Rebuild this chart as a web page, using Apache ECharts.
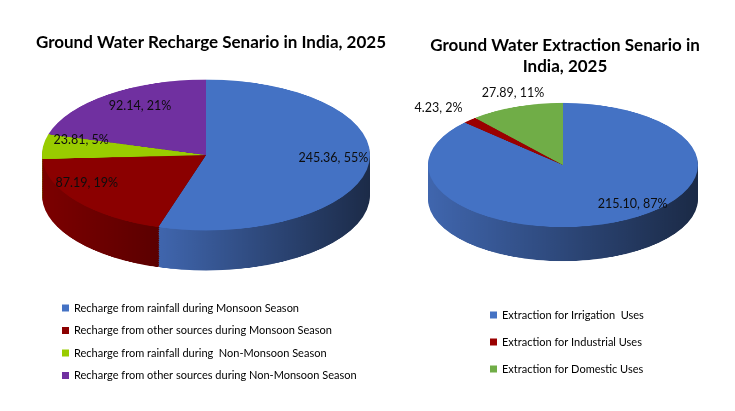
<!DOCTYPE html>
<html>
<head>
<meta charset="utf-8">
<script src="https://cdn.jsdelivr.net/npm/echarts@6/dist/echarts.min.js"></script>
<style>
  html, body { margin: 0; padding: 0; background: #ffffff; }
  #wrap { position: relative; width: 735px; height: 411px; overflow: hidden; background: #fff; }
  #pies { position: absolute; left: 0; top: 0; width: 735px; transform-origin: 0 0; }
  #labels { position: absolute; left: 0; top: 0; width: 735px; height: 411px; }
</style>
</head>
<body>
<div id="wrap">
  <div id="pies"></div>
  <div id="labels"></div>
</div>
<script>
// ---------------- data ----------------
const rechargeTitle = 'Ground Water Recharge Senario in India, 2025';
const rechargeCategories = [
  'Recharge from rainfall during Monsoon Season',
  'Recharge from other sources during Monsoon Season',
  'Recharge from rainfall during  Non-Monsoon Season',
  'Recharge from other sources during Non-Monsoon Season'
];
const rechargeValues = [245.36, 87.19, 23.81, 92.14];

const extractionTitle = 'Ground Water Extraction Senario in\nIndia, 2025';
const extractionCategories = [
  'Extraction for Irrigation  Uses',
  'Extraction for Industrial Uses',
  'Extraction for Domestic Uses'
];
const extractionValues = [215.10, 4.23, 27.89];

// ---------------- styles ----------------
const rechargeTop = ['#4472c4', '#8b0000', '#99cc00', '#7030a0'];
const rechargeSide = [['#4066ae', '#1c2b48'], ['#7c0000', '#4e0000'], ['#6f8f00', '#4d6300'], ['#4f2072', '#361650']];
const extractionTop = ['#4472c4', '#9a0000', '#70ad47'];
const extractionSide = [['#4066ae', '#1b2a46'], ['#700000', '#4a0000'], ['#4f7a32', '#365522']];

const K = 0.46;          // vertical squash of the pie discs
const LAYERS = 22;       // layers used to build the side wall
const FONT = 'Lato, "Open Sans", sans-serif';

const pies = [
  { cx: 206, cy: 155, r: 164, depth: 40, cats: rechargeCategories, vals: rechargeValues, top: rechargeTop, side: rechargeSide,
    nudge: [[14, -5], [-29, -5], [-11, -9], [3, -7]] },
  { cx: 563, cy: 165, r: 135, depth: 34, cats: extractionCategories, vals: extractionValues, top: extractionTop, side: extractionSide,
    nudge: [[32, -1], [-59, -26], [-17, -31]] }
];

// ---------------- disc layer (squashed) ----------------
const piesDiv = document.getElementById('pies');
piesDiv.style.height = (411 / K) + 'px';
piesDiv.style.transform = 'scaleY(' + K + ')';

const discSeries = [];
pies.forEach(function (p) {
  const dPre = p.depth / K;
  for (let i = LAYERS; i >= 1; i--) {
    discSeries.push({
      type: 'pie', silent: true, animation: false,
      center: [p.cx, p.cy / K + dPre * i / LAYERS],
      radius: p.r, startAngle: 90, clockwise: true,
      label: { show: false }, labelLine: { show: false },
      itemStyle: { borderWidth: 0 },
      data: p.vals.map(function (v, j) {
        return {
          name: p.cats[j], value: v,
          itemStyle: {
            color: new echarts.graphic.LinearGradient(0, 0, 1, 0, [
              { offset: 0, color: p.side[j][0] }, { offset: 1, color: p.side[j][1] }
            ])
          }
        };
      })
    });
  }
  discSeries.push({
    type: 'pie', silent: true, animation: false,
    center: [p.cx, p.cy / K],
    radius: p.r, startAngle: 90, clockwise: true,
    label: { show: false }, labelLine: { show: false },
    itemStyle: { borderWidth: 0 },
    data: p.vals.map(function (v, j) {
      return { name: p.cats[j], value: v, itemStyle: { color: p.top[j] } };
    })
  });
});
const discChart = echarts.init(piesDiv, null, { renderer: 'canvas' });
discChart.setOption({ animation: false, series: discSeries });

// ---------------- text layer (titles, labels, legends) ----------------
const labelSeries = pies.map(function (p, si) {
  return {
    type: 'pie', animation: false, silent: true,
    center: [p.cx, p.cy], radius: p.r * 1.36,
    startAngle: 90, clockwise: true, percentPrecision: 0,
    itemStyle: { color: 'rgba(0,0,0,0)', borderWidth: 0 },
    label: {
      show: true, position: 'inside', fontFamily: FONT, fontSize: 12.5, color: '#0d0d0d',
      formatter: function (prm) { return prm.value.toFixed(2) + ', ' + prm.percent + '%'; }
    },
    labelLine: { show: false },
    labelLayout: function (prm) {
      const r = prm.labelRect;
      const x = r.x + r.width / 2;
      const y = r.y + r.height / 2;
      const n = p.nudge[prm.dataIndex];
      return { x: x + n[0], y: p.cy + (y - p.cy) * K + n[1], align: 'center', verticalAlign: 'middle' };
    },
    data: p.vals.map(function (v, j) { return { name: p.cats[j], value: v }; })
  };
});

const labelChart = echarts.init(document.getElementById('labels'), null, { renderer: 'canvas' });
labelChart.setOption({
  animation: false,
  title: [
    { text: rechargeTitle, left: 206, top: 29, textAlign: 'center',
      textStyle: { fontFamily: FONT, fontSize: 17, fontWeight: 'bold', color: '#000' } },
    { text: extractionTitle, left: 560, top: 30, textAlign: 'center',
      textStyle: { fontFamily: FONT, fontSize: 17, fontWeight: 'bold', color: '#000', lineHeight: 21 } }
  ],
  legend: [
    { orient: 'vertical', left: 57, top: 296, icon: 'rect', itemWidth: 7, itemHeight: 7, itemGap: 8.5,
      selectedMode: false,
      textStyle: { fontFamily: FONT, fontSize: 11, color: '#000', lineHeight: 14 },
      data: rechargeCategories.map(function (n, i) { return { name: n, itemStyle: { color: rechargeTop[i] } }; }) },
    { orient: 'vertical', left: 485, top: 303, icon: 'rect', itemWidth: 7, itemHeight: 7, itemGap: 13,
      selectedMode: false,
      textStyle: { fontFamily: FONT, fontSize: 11, color: '#000', lineHeight: 14 },
      data: extractionCategories.map(function (n, i) { return { name: n, itemStyle: { color: extractionTop[i] } }; }) }
  ],
  series: labelSeries
});
</script>
</body>
</html>
